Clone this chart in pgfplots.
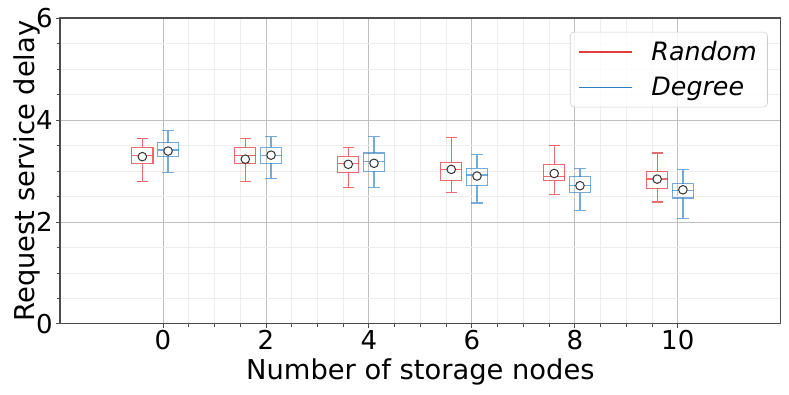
\documentclass[border=0pt]{standalone}
\usepackage{pgfplots}
\pgfplotsset{compat=1.18}
\usepgfplotslibrary{statistics}
\usetikzlibrary{calc}
\usepackage{fontspec}
\setmainfont{DejaVu Sans}
\definecolor{rnd}{RGB}{226,60,60}
\definecolor{deg}{RGB}{45,125,195}
\newcommand{\tickfont}{\fontsize{19.5}{22}\selectfont}
\newcommand{\labfont}{\fontsize{20.5}{23}\selectfont}
\newcommand{\legfont}{\fontsize{19}{22}\selectfont}

\begin{document}
\begin{tikzpicture}
\begin{axis}[
  scale only axis,
  width=540.75pt, height=229.5pt,
  xmin=-2, xmax=12, ymin=0, ymax=6,
  xtick={0,2,...,10}, ytick={0,2,4,6},
  minor x tick num=3, minor y tick num=3,
  grid=both,
  major grid style={black!25, line width=0.6pt},
  minor grid style={black!7, line width=0.5pt},
  axis line style={black!70, line width=0.8pt},
  tick style={black!70, line width=0.6pt},
  tick align=outside, tick pos=left,
  major tick length=3pt, minor tick length=2pt,
  /pgf/number format/assume math mode=true,
  ticklabel style={font=\tickfont},
  xticklabel style={yshift=1.5pt},
  yticklabel style={xshift=1pt},
  xlabel={Number of storage nodes},
  ylabel={Request service delay},
  label style={font=\labfont},
  xlabel style={at={(rel axis cs:0.5,0)}, anchor=base, yshift=-42pt, inner sep=0pt},
  ylabel style={at={(rel axis cs:0,0.5)}, anchor=south, yshift=15pt, inner sep=0pt},
  legend image code/.code={\draw[#1] (0pt,0pt) -- (40pt,0pt); \path (52pt,0pt);},
  legend cell align=left,
  legend style={at={(rel axis cs:0.982,0.955)}, anchor=north east,
    draw=black!20, rounded corners=3pt, fill=white, fill opacity=0.8,
    text opacity=1, font=\legfont, row sep=7pt, inner xsep=6pt, inner ysep=5pt},
  boxplot/draw direction=y,
  boxplot/box extend=0.41,
  boxplot/whisker extend=0.22,
  rbox/.style={rnd, draw opacity=0.75, line width=0.9pt, forget plot},
  dbox/.style={deg, draw opacity=0.65, line width=0.9pt, forget plot},
]
% Random
\addplot[rbox, boxplot prepared={draw position=-0.4,
  lower whisker=2.80, lower quartile=3.14, median=3.31, upper quartile=3.46, upper whisker=3.63}] coordinates {};
\addplot[rbox, boxplot prepared={draw position=1.6,
  lower whisker=2.80, lower quartile=3.14, median=3.31, upper quartile=3.46, upper whisker=3.63}] coordinates {};
\addplot[rbox, boxplot prepared={draw position=3.6,
  lower whisker=2.67, lower quartile=2.97, median=3.15, upper quartile=3.29, upper whisker=3.46}] coordinates {};
\addplot[rbox, boxplot prepared={draw position=5.6,
  lower whisker=2.57, lower quartile=2.82, median=3.03, upper quartile=3.16, upper whisker=3.65}] coordinates {};
\addplot[rbox, boxplot prepared={draw position=7.6,
  lower whisker=2.54, lower quartile=2.81, median=2.89, upper quartile=3.13, upper whisker=3.50}] coordinates {};
\addplot[rbox, boxplot prepared={draw position=9.6,
  lower whisker=2.39, lower quartile=2.66, median=2.84, upper quartile=2.99, upper whisker=3.35}] coordinates {};
% Degree
\addplot[dbox, boxplot prepared={draw position=0.1,
  lower whisker=2.97, lower quartile=3.29, median=3.41, upper quartile=3.55, upper whisker=3.79}] coordinates {};
\addplot[dbox, boxplot prepared={draw position=2.1,
  lower whisker=2.85, lower quartile=3.15, median=3.31, upper quartile=3.46, upper whisker=3.67}] coordinates {};
\addplot[dbox, boxplot prepared={draw position=4.1,
  lower whisker=2.67, lower quartile=2.99, median=3.18, upper quartile=3.35, upper whisker=3.67}] coordinates {};
\addplot[dbox, boxplot prepared={draw position=6.1,
  lower whisker=2.37, lower quartile=2.72, median=2.92, upper quartile=3.05, upper whisker=3.32}] coordinates {};
\addplot[dbox, boxplot prepared={draw position=8.1,
  lower whisker=2.23, lower quartile=2.57, median=2.72, upper quartile=2.89, upper whisker=3.05}] coordinates {};
\addplot[dbox, boxplot prepared={draw position=10.1,
  lower whisker=2.06, lower quartile=2.47, median=2.61, upper quartile=2.75, upper whisker=3.03}] coordinates {};
% means
\addplot[only marks, forget plot, mark=*, mark size=3.2pt,
  mark options={fill=white, draw=black!80, line width=0.75pt}] coordinates {
  (-0.4,3.28) (1.6,3.23) (3.6,3.13) (5.6,3.03) (7.6,2.95) (9.6,2.84)
  (0.1,3.39) (2.1,3.31) (4.1,3.15) (6.1,2.90) (8.1,2.71) (10.1,2.63)
};
\addlegendimage{rnd, line width=0.9pt}
\addlegendentry{\textit{Random}}
\addlegendimage{deg, line width=0.9pt}
\addlegendentry{\textit{Degree}}
\end{axis}
\pgfresetboundingbox
\path ($(current axis.south west)+(-45pt,-53.25pt)$) rectangle ($(current axis.north east)+(6.2pt,13.5pt)$);
\end{tikzpicture}
\end{document}
